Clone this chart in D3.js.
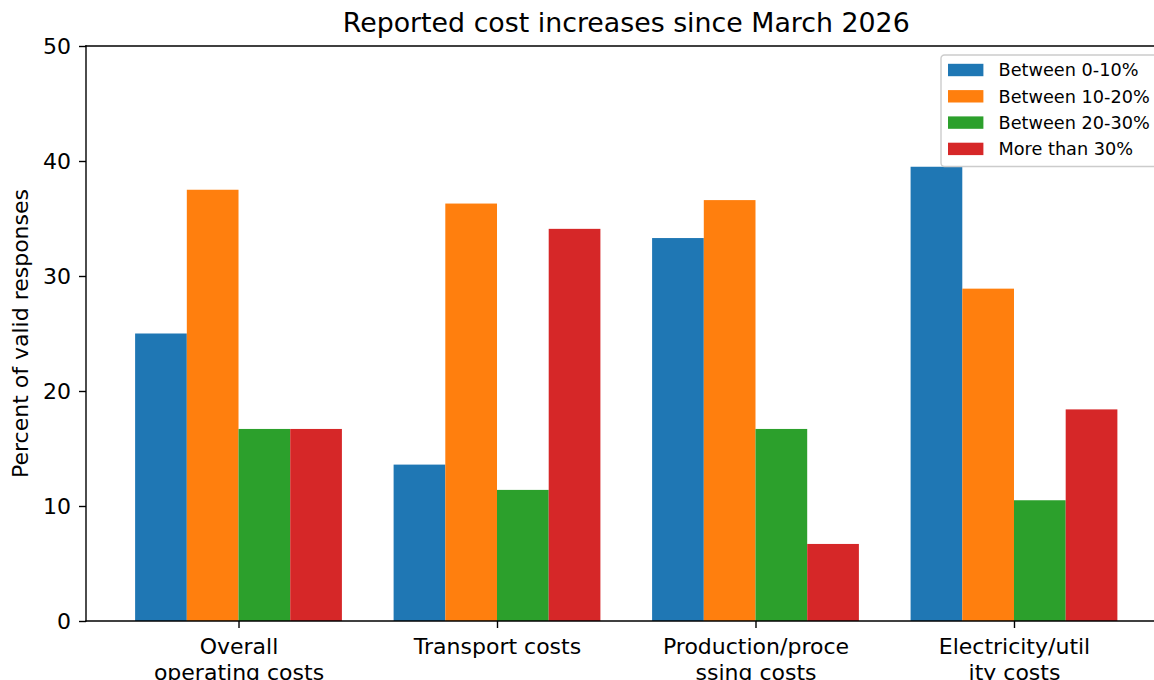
<!DOCTYPE html>
<html>
<head>
<meta charset="utf-8">
<script src="https://cdn.jsdelivr.net/npm/d3@7"></script>
<style>
  html, body { margin: 0; padding: 0; background: #fff; overflow: hidden; }
  svg { display: block; font-family: "DejaVu Sans", sans-serif; }
</style>
</head>
<body>
<svg id="chart" width="1154" height="680"></svg>
<script>
// ---- data ----
const categories = [
  ["Overall", "operating costs"],
  ["Transport costs"],
  ["Production/proce", "ssing costs"],
  ["Electricity/util", "ity costs"]
];
const seriesNames = ["Between 0-10%", "Between 10-20%", "Between 20-30%", "More than 30%"];
const between0to10  = [25.0, 13.6, 33.3, 39.5];
const between10to20 = [37.5, 36.3, 36.6, 28.9];
const between20to30 = [16.7, 11.4, 16.7, 10.5];
const moreThan30    = [16.7, 34.1, 6.7, 18.4];
const yTicks = [0, 10, 20, 30, 40, 50];
const titleText = "Reported cost increases since March 2026";
const yLabelText = "Percent of valid responses";

const seriesValues = [between0to10, between10to20, between20to30, moreThan30];
const colors = ["#1f77b4", "#ff7f0e", "#2ca02c", "#d62728"];

(function () {
// ---- layout ----
const svg = d3.select("#chart");
const pLeft = 86, pRight = 1166.5, pTop = 46, pBottom = 621;
const barW = 0.2;
const x = d3.scaleLinear().domain([-0.59, 3.59]).range([pLeft, pRight]);
const y = d3.scaleLinear().domain([0, 50]).range([pBottom, pTop]);

const tickFont = 22;

// bars
const g = svg.append("g");
seriesValues.forEach((vals, si) => {
  g.selectAll(null)
    .data(vals)
    .enter()
    .append("rect")
    .attr("x", (d, i) => x(i + (si - 2) * barW))
    .attr("width", x(barW) - x(0))
    .attr("y", d => y(d))
    .attr("height", d => y(0) - y(d))
    .attr("fill", colors[si]);
});

// spines
const spineW = 1.4;
const spine = (x1, y1, x2, y2) => svg.append("line")
  .attr("x1", x1).attr("y1", y1).attr("x2", x2).attr("y2", y2)
  .attr("stroke", "#000").attr("stroke-width", spineW).attr("stroke-linecap", "square");
spine(pLeft, pTop, pLeft, pBottom);
spine(pLeft, pTop, pRight, pTop);
spine(pLeft, pBottom, pRight, pBottom);
spine(pRight, pTop, pRight, pBottom);

// y axis
const yAxis = svg.append("g")
  .attr("transform", `translate(${pLeft},0)`)
  .call(d3.axisLeft(y).tickValues(yTicks).tickSize(7).tickPadding(8).tickFormat(d3.format("d")));
yAxis.select(".domain").remove();
yAxis.selectAll(".tick line").attr("stroke", "#000").attr("stroke-width", 1.4);
yAxis.selectAll(".tick text")
  .attr("font-size", tickFont).attr("fill", "#000")
  .attr("font-family", "DejaVu Sans, sans-serif")
  .attr("dy", "0.36em");

// x axis
const xAxis = svg.append("g")
  .attr("transform", `translate(0,${pBottom})`)
  .call(d3.axisBottom(x).tickValues([0, 1, 2, 3]).tickSize(7).tickFormat(""));
xAxis.select(".domain").remove();
xAxis.selectAll(".tick line").attr("stroke", "#000").attr("stroke-width", 1.4);
xAxis.selectAll(".tick").each(function (d) {
  const t = d3.select(this).append("text")
    .attr("fill", "#000")
    .attr("font-size", tickFont)
    .attr("font-family", "DejaVu Sans, sans-serif")
    .attr("text-anchor", "middle");
  categories[d].forEach((line, li) => {
    t.append("tspan").attr("x", 0).attr("y", 33 + li * 25.5).text(line);
  });
});

// title
svg.append("text")
  .attr("x", (pLeft + pRight) / 2).attr("y", 32)
  .attr("text-anchor", "middle")
  .attr("font-size", 26.8).attr("fill", "#000")
  .text(titleText);

// y label
svg.append("text")
  .attr("transform", `translate(28,${(pTop + pBottom) / 2}) rotate(-90)`)
  .attr("text-anchor", "middle")
  .attr("font-size", tickFont).attr("fill", "#000")
  .text(yLabelText);

// legend
const lg = svg.append("g");
lg.append("rect")
  .attr("x", 941).attr("y", 55).attr("width", 218).attr("height", 111.5)
  .attr("rx", 3.5).attr("ry", 3.5)
  .attr("fill", "#fff").attr("fill-opacity", 0.8)
  .attr("stroke", "#cccccc").attr("stroke-width", 1.4);
seriesNames.forEach((name, i) => {
  const cy = 70 + i * 26.3;
  lg.append("rect")
    .attr("x", 948).attr("y", cy - 6.2).attr("width", 35.4).attr("height", 12.4)
    .attr("fill", colors[i]);
  lg.append("text")
    .attr("x", 998.5).attr("y", cy).attr("dy", "0.36em")
    .attr("font-size", 17.7).attr("fill", "#000")
    .text(name);
});
})();
</script>
</body>
</html>
